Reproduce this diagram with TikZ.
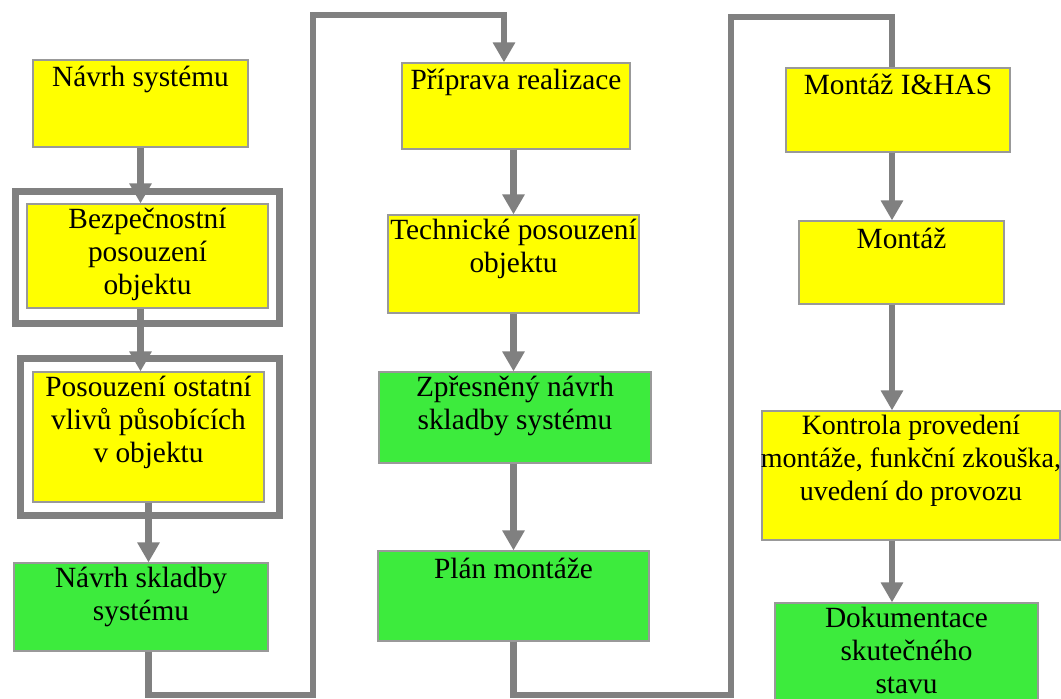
\documentclass[tikz,border=0pt]{standalone}
\usepackage{fontspec}
\setmainfont{Liberation Serif}
\usetikzlibrary{arrows.meta,calc}

\definecolor{zluta}{RGB}{255,255,0}
\definecolor{zelena}{RGB}{61,235,61}
\definecolor{seda}{RGB}{128,128,128}

\begin{document}
\begin{tikzpicture}[x=0.75pt, y=-0.75pt,
  box/.style={rectangle, draw=seda!80, line width=0.9pt, inner sep=0pt},
  zluty/.style={box, fill=zluta},
  zeleny/.style={box, fill=zelena},
  ram/.style={rectangle, draw=seda, line width=5.25pt, inner sep=0pt},
  popis/.style={anchor=north, align=center, inner sep=0pt, font=\fontsize{22pt}{25pt}\selectfont, execute at begin node=\strut},
  spoj/.style={draw=seda, line width=5pt},
  sipka/.style={spoj, -{Triangle[width=16pt, length=15pt]}}]
  \useasboundingbox (0,0) rectangle (1061,699);

  \node (r1) [ram, minimum width=198pt, minimum height=99pt] at (147.5, 257.5) {};
  \node (r2) [ram, minimum width=194.25pt, minimum height=117.75pt] at (150, 437) {};

  \node (navrh) [zluty, minimum width=161.25pt, minimum height=65.25pt] at (140.5, 103.5) {};
  \node (bezp) [zluty, minimum width=180.75pt, minimum height=78pt] at (147.5, 256) {};
  \node (vlivy) [zluty, minimum width=173.25pt, minimum height=97.5pt] at (148.5, 437) {};
  \node (skladba) [zeleny, minimum width=190.5pt, minimum height=66pt] at (141, 607) {};
  \node (prip) [zluty, minimum width=171pt, minimum height=64.5pt] at (516, 106) {};
  \node (tech) [zluty, minimum width=188.25pt, minimum height=73.5pt] at (513.5, 264) {};
  \node (zpres) [zeleny, minimum width=204pt, minimum height=68.25pt] at (515, 417.5) {};
  \node (plan) [zeleny, minimum width=203.25pt, minimum height=67.5pt] at (513.5, 596) {};
  \node (mont1) [zluty, minimum width=168pt, minimum height=63pt] at (898, 110) {};
  \node (mont2) [zluty, minimum width=153.75pt, minimum height=62.25pt] at (901.5, 262.5) {};
  \node (kontr) [zluty, minimum width=223.5pt, minimum height=96.75pt] at (911, 475.5) {};
  \node (dokum) [zeleny, minimum width=197.25pt, minimum height=82.5pt] at (906.5, 658) {};

  \node (t1) [popis] at ($(navrh.north)+(0,4)$) {Návrh systému};
  \node (t2) [popis] at ($(bezp.north)+(0,4)$) {Bezpečnostní\\posouzení\\objektu};
  \node (t3) [popis] at ($(vlivy.north)+(0,4)$) {Posouzení ostatní\\vlivů působících\\v objektu};
  \node (t4) [popis] at ($(skladba.north)+(0,4)$) {Návrh skladby\\systému};
  \node (t5) [popis] at ($(prip.north)+(0,4)$) {Příprava realizace};
  \node (t6) [popis] at ($(tech.north)+(0,4)$) {Technické posouzení\\objektu};
  \node (t7) [popis] at ($(zpres.north)+(0,4)$) {Zpřesněný návrh\\skladby systému};
  \node (t8) [popis] at ($(plan.north)+(0,4)$) {Plán montáže};
  \node (t9) [popis] at ($(mont1.north)+(0,4)$) {Montáž I\&HAS};
  \node (t10) [popis] at ($(mont2.north)+(0,4)$) {Montáž};
  \node (t11) [popis, font=\fontsize{21pt}{25pt}\selectfont] at ($(kontr.north)+(0,4)$) {Kontrola provedení\\montáže, funkční zkouška,\\uvedení do provozu};
  \node (t12) [popis] at ($(dokum.north)+(0,4)$) {Dokumentace\\skutečného\\stavu};

  \coordinate (k1) at (313, 695);
  \coordinate (k2) at (504, 15);
  \coordinate (k3) at (731, 695);
  \coordinate (k4) at (892, 17);

  \draw[sipka] (navrh.south) -- (navrh.south |- bezp.north);
  \draw[sipka] (navrh.south |- bezp.south) -- (navrh.south |- vlivy.north);
  \draw[sipka] (vlivy.south) -- (vlivy.south |- skladba.north);
  \draw[sipka] (vlivy.south |- skladba.south) |- (k1) |- (k2) -- (k2 |- prip.north);
  \draw[sipka] (prip.south -| tech.north) -- (tech.north);
  \draw[sipka] (tech.south) -- (tech.south |- zpres.north);
  \draw[sipka] (tech.south |- zpres.south) -- (tech.south |- plan.north);
  \draw[spoj] (plan.south) |- (k3) |- (k4) -- (k4 |- mont1.north);
  \draw[sipka] (k4 |- mont1.south) -- (k4 |- mont2.north);
  \draw[sipka] (k4 |- mont2.south) -- (k4 |- kontr.north);
  \draw[sipka] (k4 |- kontr.south) -- (k4 |- dokum.north);
\end{tikzpicture}
\end{document}
